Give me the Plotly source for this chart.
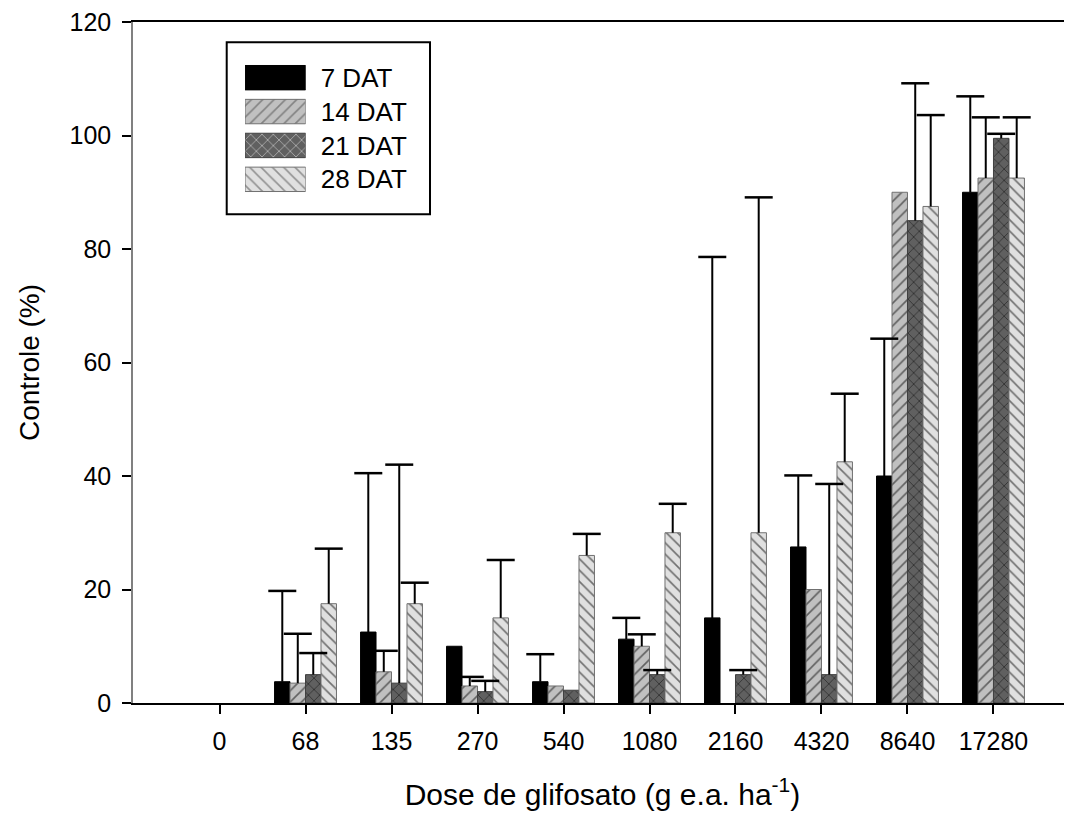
import plotly.graph_objects as go

doses = ["0", "68", "135", "270", "540", "1080", "2160", "4320", "8640", "17280"]
series_names = ["7 DAT", "14 DAT", "21 DAT", "28 DAT"]

dat7 = [0, 3.75, 12.5, 10, 3.75, 11.25, 15, 27.5, 40, 90]
dat14 = [0, 3.5, 5.5, 3, 3, 10, 0, 20, 90, 92.5]
dat21 = [0, 5, 3.5, 2, 2.25, 5, 5, 5, 85, 99.5]
dat28 = [0, 17.5, 17.5, 15, 26, 30, 30, 42.5, 87.5, 92.5]

err7 = [None, 16, 28, None, 4.85, 3.75, 63.6, 12.6, 24.2, 16.9]
err14 = [None, 8.7, 3.7, 1.6, None, 2.1, None, None, None, 10.7]
err21 = [None, 3.8, 38.5, 1.9, None, 0.8, 0.8, 33.6, 24.2, 0.8]
err28 = [None, 9.7, 3.7, 10.2, 3.8, 5.1, 59.1, 12.0, 16.1, 10.7]

values = [dat7, dat14, dat21, dat28]
errors = [err7, err14, err21, err28]

fill_colors = ["#000000", "#c0c0c0", "#606060", "#e0e0e0"]
line_colors = ["#000000", "#707070", "#404040", "#707070"]
shapes_pat = ["", "/", "x", "\\"]

FONT = "Liberation Sans, Arial, Helvetica, sans-serif"

fig = go.Figure()

for name, vals, errs, fc, lc, sh in zip(series_names, values, errors, fill_colors, line_colors, shapes_pat):
    shown = [v if v else None for v in vals]  # zero-height bars are not drawn
    fig.add_trace(go.Bar(
        x=doses, y=shown, name=name,
        marker=dict(color=fc, line=dict(color=lc, width=1),
                    pattern=dict(shape=sh, fillmode="overlay", fgcolor="#000000",
                                 size=8, solidity=0.2)),
        error_y=dict(type="data", symmetric=False,
                     array=[e if e is not None else 0 for e in errs],
                     arrayminus=[0] * len(errs),
                     width=0, thickness=2, color="#000000"),
        showlegend=False,
    ))

for name, vals, errs in zip(series_names, values, errors):
    tops = [v + e if e is not None else None for v, e in zip(vals, errs)]
    fig.add_trace(go.Scatter(
        x=doses, y=tops, mode="markers", name=name + " cap",
        marker=dict(symbol="line-ew", size=20, line=dict(color="#000000", width=2.5)),
        showlegend=False, hoverinfo="skip", cliponaxis=False,
    ))

# inset legend
fig.add_trace(go.Bar(
    x=[1, 1, 1, 1], y=series_names, orientation="h", xaxis="x2", yaxis="y2",
    marker=dict(color=fill_colors, line=dict(color=line_colors, width=1),
                pattern=dict(shape=shapes_pat, fillmode="overlay", fgcolor="#000000",
                             size=8, solidity=0.2)),
    showlegend=False, hoverinfo="skip",
))

fig.update_layout(
    width=1064, height=812,
    margin=dict(l=125, r=0, t=14, b=117, autoexpand=False),
    paper_bgcolor="white", plot_bgcolor="white",
    barmode="group", bargap=0.28, bargroupgap=0,
    scattermode="group", scattergap=0.28,
    font=dict(family=FONT, size=25, color="#000000"),
    xaxis=dict(
        type="category", range=[-1.006, 9.913], automargin=False,
        showline=True, linecolor="#000000", linewidth=2, mirror=True,
        ticks="outside", ticklen=9, tickwidth=2, tickcolor="#000000",
        showgrid=False, zeroline=False, ticklabeloverflow="allow",
        tickfont=dict(size=25), ticklabelstandoff=6,
        title=dict(text="Dose de glifosato (g e.a. ha<sup>-1</sup>)",
                   font=dict(size=30), standoff=30),
    ),
    yaxis=dict(
        range=[0, 120], tickvals=[0, 20, 40, 60, 80, 100, 120], automargin=False,
        showline=True, linecolor="#808080", linewidth=1.5, mirror=False,
        ticks="outside", ticklen=9, tickwidth=1.5, tickcolor="#000000",
        showgrid=False, zeroline=False, ticklabeloverflow="allow",
        tickfont=dict(size=25), ticklabelstandoff=6,
        title=dict(text="Controle (%)", font=dict(size=28), standoff=22),
    ),
    xaxis2=dict(domain=[0.1193, 0.1839], anchor="y2", range=[0, 1],
                visible=False, fixedrange=True, automargin=False),
    yaxis2=dict(domain=[0.7441, 0.9431], anchor="x2", type="category",
                autorange="reversed", side="right", showline=False, showgrid=False,
                zeroline=False, ticks="", ticklabelstandoff=14, automargin=False,
                tickfont=dict(size=26), fixedrange=True),
    shapes=[dict(type="rect", xref="paper", yref="paper",
                 x0=0.0998, x1=0.3163, y0=0.7176, y1=0.9702,
                 line=dict(color="#000000", width=2), fillcolor="rgba(0,0,0,0)",
                 layer="below")],
)

fig.write_html("out.html")
